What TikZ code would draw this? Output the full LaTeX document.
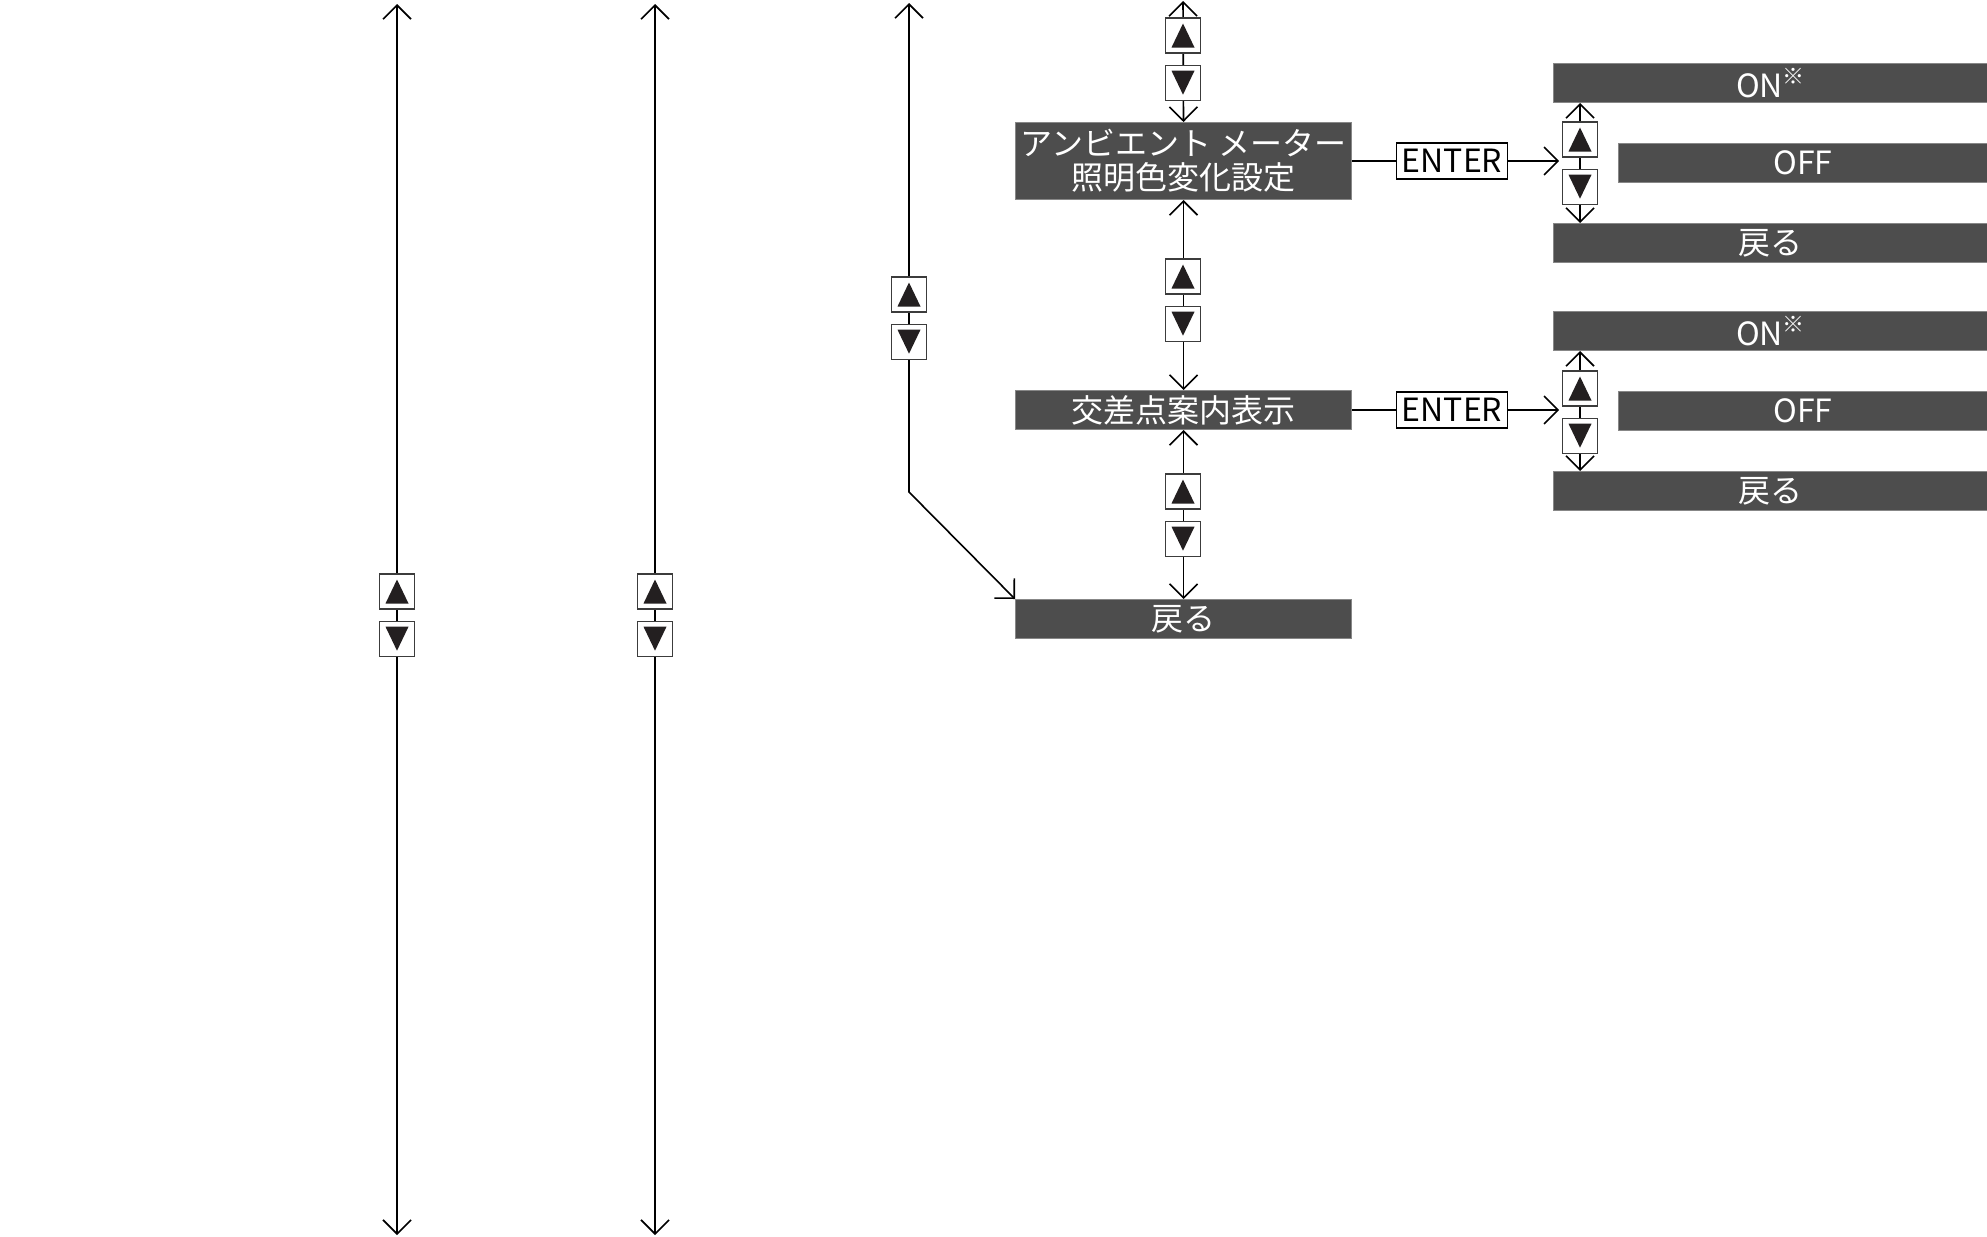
\documentclass[tikz,border=0pt]{standalone}
\usepackage{fontspec}
\setmainfont{Noto Sans CJK JP}
\usepackage{tikz}
\usetikzlibrary{calc,math,positioning,arrows.meta,backgrounds}
\pgfdeclarelayer{back}
\pgfsetlayers{background,back,main}

\definecolor{menugray}{RGB}{77,77,77}
\definecolor{menuedge}{RGB}{135,135,135}
\definecolor{keyedge}{RGB}{60,60,60}
\definecolor{keyfill}{RGB}{35,31,32}

\tikzset{
  menu/.style={rectangle,fill=menugray,draw=menuedge,line width=0.5pt,text=white,minimum width=168pt,minimum height=19.5pt,inner sep=0pt,font=\fontsize{16}{17}\selectfont,align=center},
  keybox/.style={rectangle,fill=white,draw=keyedge,line width=0.6pt,minimum width=17.5pt,minimum height=17.5pt,inner sep=0pt},
  keyup/.style={keybox,path picture={\fill[keyfill] ($(path picture bounding box.center)+(0,6pt)$) -- ++(-5.75pt,-12pt) -- ++(11.5pt,0) -- cycle;}},
  keydown/.style={keybox,path picture={\fill[keyfill] ($(path picture bounding box.center)+(0,-6pt)$) -- ++(-5.75pt,12pt) -- ++(11.5pt,0) -- cycle;}},
  enterbox/.style={rectangle,fill=white,draw=black,line width=0.6pt,minimum width=55.5pt,minimum height=18pt,inner sep=0pt,font=\fontsize{16}{17}\selectfont},
  link/.style={line width=0.8pt},
}

\begin{document}
\begin{tikzpicture}[x=0.5pt,y=-0.5pt,>={Straight Barb[length=7pt,width=14pt]}]

  \useasboundingbox (0,0) rectangle (1987,1237);

  % main menu
  \node (menu_0) [menu,minimum height=38.5pt,anchor=north west] at(1015,122) {アンビエント メーター\\照明色変化設定};
  \node (menu_1) [menu,anchor=north west] at(1015,390) {交差点案内表示};
  \node (menu_2) [menu,anchor=north west] at(1015,599) {戻る};

  % up/down keys
  \foreach \i/\x/\y in {0/397/591.5,1/655/591.5,2/909/294.5,3/1183/35.5,4/1183/276.5,5/1183/491.5,6/1580/139.5,7/1580/388.5}
   {
     \node (up_\i) [keyup] at(\x,\y) {};
     \node (down_\i) [keydown,anchor=north] at($(up_\i.south)+(0,11)$) {};
   }

  % sub menus
  \foreach \j/\y in {0/63,1/311}
   {

     \tikzmath{
       integer \k;
       \k = \j+6;
       \yoff = \y+80;
       \yback = \y+160;
     }

       \node (enter_\j) [enterbox,anchor=west] at($(menu_\j.east)+(44,0)$) {ENTER};
       \node (on_\j) [menu,minimum width=217pt,anchor=north west] at(1553,\y) {ON\raisebox{0.4em}{\fontsize{11}{11}\selectfont ※}};
       \node (off_\j) [menu,minimum width=184.5pt,anchor=north west] at(1618,\yoff) {OFF};
       \node (back_\j) [menu,minimum width=217pt,anchor=north west] at(1553,\yback) {戻る};
       \coordinate (aim_\j) at($(enter_\j.east)+(51,0)$);

       \begin{pgfonlayer}{back}
         \draw[link] (menu_\j.east) -- (enter_\j.west);
         \draw[link,->] (enter_\j.east) -- (aim_\j);
         \draw[link,<->] (up_\k |- on_\j.south) -- (up_\k |- back_\j.north);
       \end{pgfonlayer}
   }

  \begin{pgfonlayer}{back}
    \foreach \i/\x in {0/397,1/655}
     {
       \coordinate (top_\i) at(\x,4);
       \coordinate (bot_\i) at(\x,1235);
       \draw[link,<->] (top_\i) -- (bot_\i);
     }
    \coordinate (top_2) at(909,3);
    \coordinate (bend_2) at(909,492);
    \coordinate (top_3) at(1183,1);
    \draw[link,<->] (top_2) -- (bend_2) -- (menu_2.north west);
    \draw[link,<->] (top_3) -- (menu_0.north);
    \draw[link,<->] (menu_0.south) -- (menu_1.north);
    \draw[link,<->] (menu_1.south) -- (menu_2.north);
  \end{pgfonlayer}

\end{tikzpicture}
\end{document}
